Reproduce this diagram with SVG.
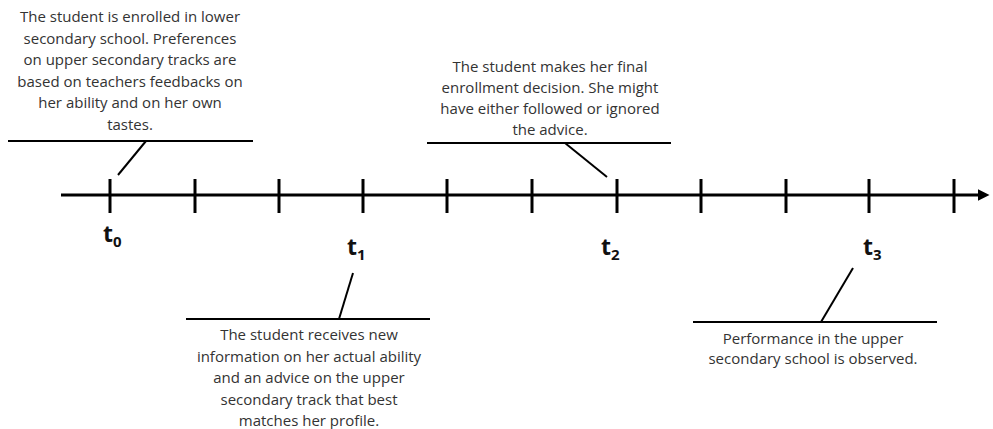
<svg xmlns="http://www.w3.org/2000/svg" width="993" height="429" viewBox="0 0 993 429">
<defs>
<style>
.ln{stroke:#000;stroke-width:2;fill:none}
.axis{stroke:#000;stroke-width:3;fill:none}
.tick{stroke:#000;stroke-width:3}
.txt{font-family:"Open Sans","Liberation Sans",sans-serif;font-size:15px;fill:#333;text-anchor:middle}
.lbl{font-family:"Open Sans","Liberation Sans",sans-serif;font-size:23px;font-weight:bold;fill:#111}
.sub{font-size:15px}
</style>
<marker id="arr" markerWidth="4" markerHeight="4" refX="2.5" refY="2" orient="auto" markerUnits="strokeWidth">
<path d="M0,0 L4,2 L0,4 Z" fill="#000"/>
</marker>
</defs>
<rect width="993" height="429" fill="#fff"/>
<g id="timeline">
<line class="axis" x1="61" y1="195" x2="985" y2="195" marker-end="url(#arr)"/>
<g class="tick">
<line x1="110" y1="179" x2="110" y2="213"/>
<line x1="195" y1="179" x2="195" y2="213"/>
<line x1="279" y1="179" x2="279" y2="213"/>
<line x1="363" y1="179" x2="363" y2="213"/>
<line x1="447" y1="179" x2="447" y2="213"/>
<line x1="532" y1="179" x2="532" y2="213"/>
<line x1="617" y1="179" x2="617" y2="213"/>
<line x1="701" y1="179" x2="701" y2="213"/>
<line x1="786" y1="179" x2="786" y2="213"/>
<line x1="869" y1="179" x2="869" y2="213"/>
<line x1="954" y1="179" x2="954" y2="213"/>
</g>
</g>
<g id="t0"><text class="lbl" x="103" y="242">t<tspan class="sub" dy="5">0</tspan></text></g>
<g id="t1"><text class="lbl" x="347" y="255">t<tspan class="sub" dy="5">1</tspan></text></g>
<g id="t2"><text class="lbl" x="601" y="255">t<tspan class="sub" dy="5">2</tspan></text></g>
<g id="t3"><text class="lbl" x="863" y="255">t<tspan class="sub" dy="5">3</tspan></text></g>
<g id="callout-t0">
<text class="txt" x="130" y="22">The student is enrolled in lower</text>
<text class="txt" x="130" y="43.5">secondary school. Preferences</text>
<text class="txt" x="130" y="65">on upper secondary tracks are</text>
<text class="txt" x="130" y="86.5">based on teachers feedbacks on</text>
<text class="txt" x="130" y="108">her ability and on her own</text>
<text class="txt" x="130" y="129.5">tastes.</text>
</g>
<g id="callout-t2">
<text class="txt" x="550" y="72">The student makes her final</text>
<text class="txt" x="550" y="93">enrollment decision. She might</text>
<text class="txt" x="550" y="114">have either followed or ignored</text>
<text class="txt" x="550" y="135">the advice.</text>
</g>
<g id="callout-t1">
<text class="txt" x="309" y="340">The student receives new</text>
<text class="txt" x="309" y="361.5">information on her actual ability</text>
<text class="txt" x="309" y="383">and an advice on the upper</text>
<text class="txt" x="309" y="404.5">secondary track that best</text>
<text class="txt" x="309" y="426">matches her profile.</text>
</g>
<g id="callout-t3">
<text class="txt" x="813" y="344">Performance in the upper</text>
<text class="txt" x="813" y="364">secondary school is observed.</text>
</g>
<g id="connectors">
<line class="ln" x1="8" y1="141" x2="253" y2="141"/>
<line class="ln" x1="146" y1="141" x2="118" y2="175"/>
<line class="ln" x1="427" y1="143" x2="671" y2="143"/>
<line class="ln" x1="565" y1="143" x2="607" y2="177"/>
<line class="ln" x1="186" y1="319" x2="430" y2="319"/>
<line class="ln" x1="339" y1="319" x2="353" y2="273"/>
<line class="ln" x1="693" y1="322" x2="937" y2="322"/>
<line class="ln" x1="821" y1="322" x2="853" y2="268"/>
</g>
</svg>
